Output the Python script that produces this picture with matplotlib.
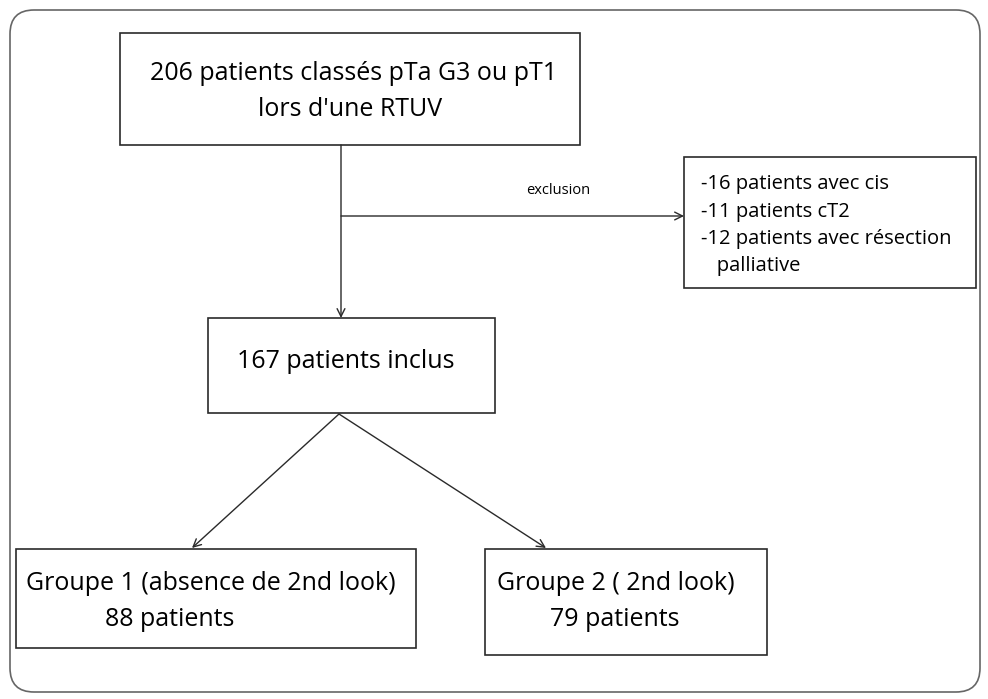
import matplotlib.pyplot as plt
from matplotlib.patches import Rectangle, FancyBboxPatch

# flowchart content
top_lines = ["206 patients classés pTa G3 ou pT1", "lors d'une RTUV"]
excl_label = "exclusion"
excl_lines = ["-16 patients avec cis", "-11 patients cT2",
              "-12 patients avec résection", "   palliative"]
incl_text = "167 patients inclus"
group1_lines = ["Groupe 1 (absence de 2nd look)", "88 patients"]
group2_lines = ["Groupe 2 ( 2nd look)", "79 patients"]

plt.rcParams['font.family'] = ['Open Sans', 'DejaVu Sans']

fig = plt.figure(figsize=(9.88, 6.99), dpi=100)
ax = fig.add_axes([0, 0, 1, 1])
ax.set_xlim(0, 988)
ax.set_ylim(699, 0)
ax.axis('off')

edge = '#2a2a2a'

# outer frame
frame = FancyBboxPatch((10, 10), 970, 682, boxstyle="round,pad=0,rounding_size=24",
                       fill=False, ec='#666666', lw=1.2)
ax.add_patch(frame)

def box(x0, y0, x1, y1):
    ax.add_patch(Rectangle((x0, y0), x1 - x0, y1 - y0, fill=False, ec=edge, lw=1.2))

box(120, 33, 580, 145)
box(684, 157, 976, 288)
box(208, 318, 495, 413)
box(16, 549, 416, 648)
box(485, 549, 767, 655)

fs = 18
ax.text(354, 73, top_lines[0], ha='center', va='center', fontsize=fs)
ax.text(350, 110, top_lines[1], ha='center', va='center', fontsize=fs)

ax.text(558, 191, excl_label, ha='center', va='center', fontsize=10.5)
for i, line in enumerate(excl_lines):
    ax.text(701, 184 + i * 27.5, line, ha='left', va='center', fontsize=14.5)

ax.text(237, 361, incl_text, ha='left', va='center', fontsize=fs)

ax.text(26, 584, group1_lines[0], ha='left', va='center', fontsize=fs)
ax.text(105, 620, group1_lines[1], ha='left', va='center', fontsize=fs)
ax.text(497, 584, group2_lines[0], ha='left', va='center', fontsize=fs)
ax.text(550, 620, group2_lines[1], ha='left', va='center', fontsize=fs)

# connectors
arr = dict(arrowstyle='->', color=edge, lw=1.0, mutation_scale=14, shrinkA=0, shrinkB=0)
ax.annotate('', xy=(341, 318), xytext=(341, 145), arrowprops=arr)
ax.annotate('', xy=(684, 216), xytext=(341, 216), arrowprops=arr)
ax.annotate('', xy=(192, 548), xytext=(339, 414), arrowprops=arr)
ax.annotate('', xy=(546, 548), xytext=(339, 414), arrowprops=arr)

fig.savefig('out.png', dpi=100)
